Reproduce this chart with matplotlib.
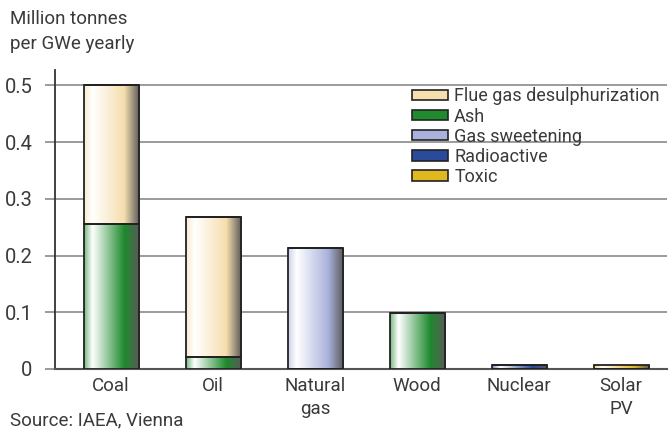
import numpy as np
import matplotlib.pyplot as plt
from matplotlib.colors import LinearSegmentedColormap, to_rgb

plt.rcParams['font.family'] = ['Roboto', 'DejaVu Sans']

sources = ['Coal', 'Oil', 'Natural\ngas', 'Wood', 'Nuclear', 'Solar\nPV']
ash = [0.255, 0.021, 0, 0.098, 0, 0]
flue_gas = [0.245, 0.247, 0, 0, 0, 0]
gas_sweetening = [0, 0, 0.213, 0, 0, 0]
radioactive = [0, 0, 0, 0, 0.007, 0]
toxic = [0, 0, 0, 0, 0, 0.007]

legend_names = ['Flue gas desulphurization', 'Ash', 'Gas sweetening', 'Radioactive', 'Toxic']
colors = {'Flue gas desulphurization': '#f6dfae', 'Ash': '#1f8a2e',
          'Gas sweetening': '#aab2dc', 'Radioactive': '#2a4a9a', 'Toxic': '#e2b820'}

def shade_cmap(c):
    c = np.array(to_rgb(c))
    white = np.ones(3)
    gray = np.array([0.35, 0.35, 0.35])
    stops = [(0.0, c * 0.6 + white * 0.4), (0.15, white), (0.72, c),
             (0.86, c * 0.5 + gray * 0.5), (1.0, gray)]
    return LinearSegmentedColormap.from_list('s', stops)

fig = plt.figure(figsize=(6.72, 4.36), dpi=100)
ax = fig.add_axes([0.0818, 0.1537, 0.9108, 0.6857])

x = np.arange(len(sources))
grad = np.linspace(0, 1, 200).reshape(1, -1)
bottom = np.zeros(len(sources))
series = [('Ash', ash), ('Flue gas desulphurization', flue_gas),
          ('Gas sweetening', gas_sweetening), ('Radioactive', radioactive),
          ('Toxic', toxic)]
for name, vals in series:
    vals = np.array(vals)
    bars = ax.bar(x, vals, 0.54, bottom=bottom, facecolor='none',
                  edgecolor='#222222', linewidth=1.3, zorder=4)
    cm = shade_cmap(colors[name])
    for b, v in zip(bars, vals):
        if v <= 0:
            continue
        x0, y0 = b.get_x(), b.get_y()
        im = ax.imshow(grad, cmap=cm, aspect='auto', zorder=3,
                       extent=(x0, x0 + b.get_width(), y0, y0 + b.get_height()))
        im.set_clip_path(b)
    bottom += vals

txt = '#3a3a3a'
ax.set_xlim(-0.55, 5.45)
ax.set_ylim(0, 0.527)
ax.set_yticks([0, 0.1, 0.2, 0.3, 0.4, 0.5])
ax.set_yticklabels(['0', '0.1', '0.2', '0.3', '0.4', '0.5'])
ax.set_xticks(x)
ax.set_xticklabels(sources, va='top', linespacing=1.35)
ax.yaxis.grid(True, color='#8a8a8a', linewidth=1.2, zorder=0)
ax.set_axisbelow(True)
ax.tick_params(axis='y', length=7, width=1.2, color='#8a8a8a', labelsize=14.5,
               labelcolor=txt, pad=9)
ax.tick_params(axis='x', length=0, labelsize=13.5, labelcolor=txt, pad=6)
for s in ['top', 'right']:
    ax.spines[s].set_visible(False)
ax.spines['left'].set_color('#333333')
ax.spines['left'].set_linewidth(1.3)
ax.spines['bottom'].set_color('#555555')
ax.spines['bottom'].set_linewidth(1.5)

handles = [plt.Rectangle((0, 0), 1, 1, facecolor=colors[n], edgecolor='#222222', linewidth=1.2)
           for n in legend_names]
leg = ax.legend(handles, legend_names, loc='upper left', bbox_to_anchor=(0.583, 0.942),
                frameon=False, fontsize=13, handlelength=2.0, handleheight=0.5,
                labelspacing=0.12, handletextpad=0.35, borderpad=0, borderaxespad=0)
for t in leg.get_texts():
    t.set_color(txt)

fig.text(0.015, 0.978, 'Million tonnes\nper GWe yearly', ha='left', va='top',
         fontsize=13.5, color=txt, linespacing=1.5)
fig.text(0.015, 0.035, 'Source: IAEA, Vienna', ha='left', va='center',
         fontsize=13.5, color=txt)

fig.savefig('out.png', dpi=100)
